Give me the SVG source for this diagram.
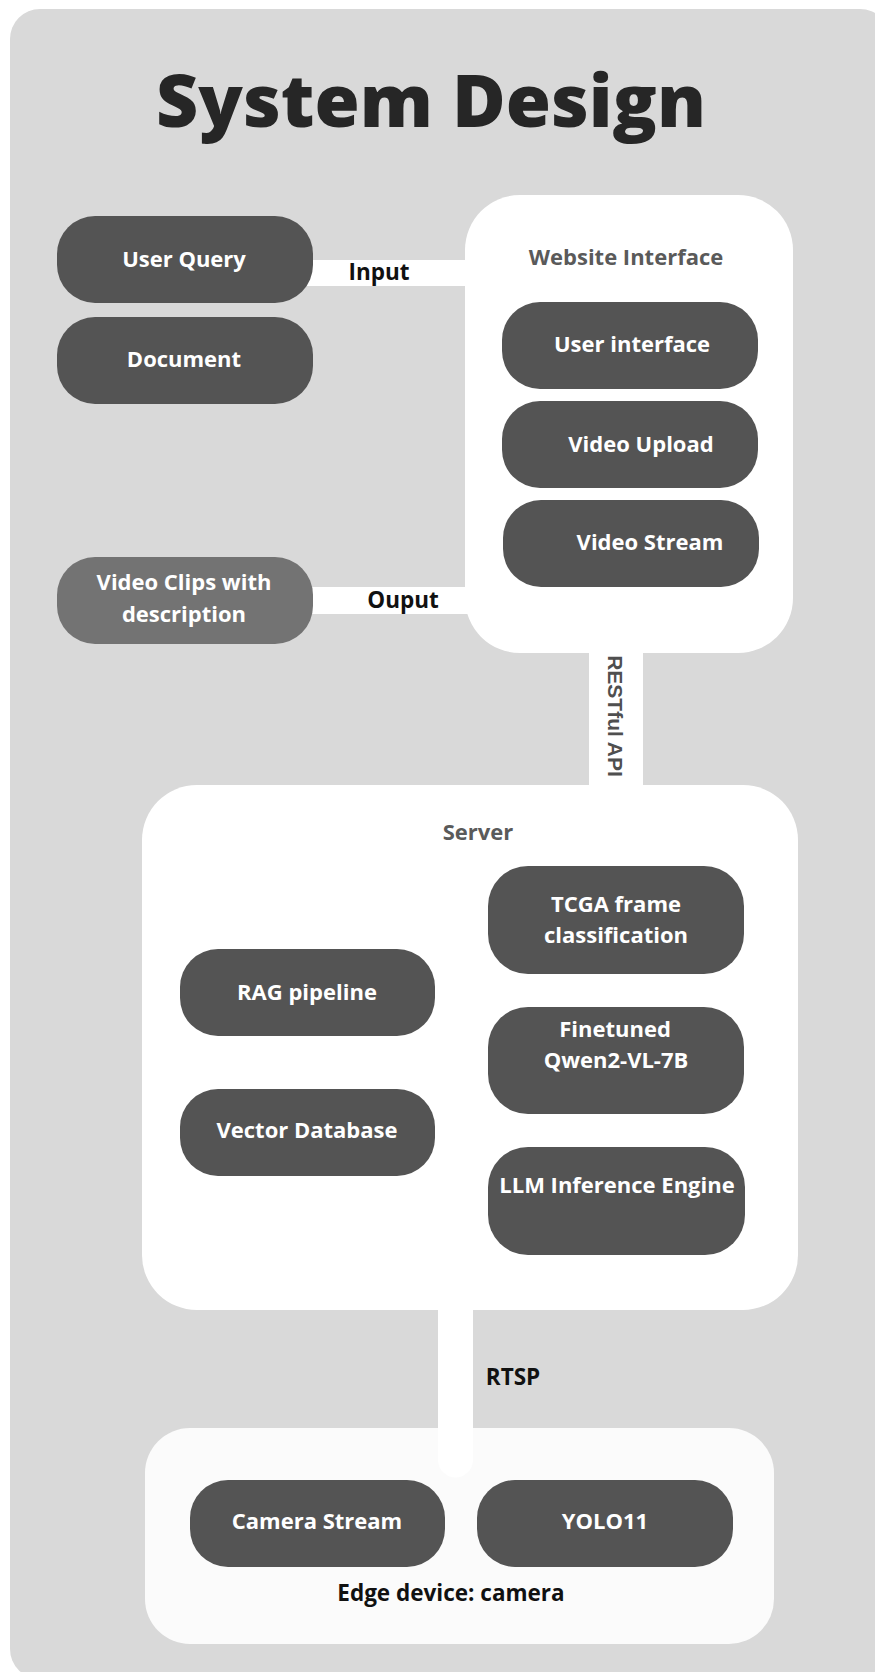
<svg xmlns="http://www.w3.org/2000/svg" width="875" height="1672" viewBox="0 0 875 1672">
<style>
.node{fill:#545454}
.cont{fill:#ffffff}
.lbl{font-family:"Open Sans","Liberation Sans",sans-serif;font-weight:700;font-size:22px;fill:#ffffff;text-anchor:middle}
.clbl{font-family:"Open Sans","Liberation Sans",sans-serif;font-weight:700;font-size:22px;fill:#5a5a5a;text-anchor:middle}
.elbl{font-family:"Open Sans","Liberation Sans",sans-serif;font-weight:700;font-size:22.5px;fill:#111111;text-anchor:middle}
.band{fill:#ffffff}
</style>
<rect x="10" y="9" width="880" height="1670" rx="30" fill="#d9d9d9"/>
<text x="431" y="127" font-family="'Open Sans','Liberation Sans',sans-serif" font-weight="800" font-size="72" fill="#262626" text-anchor="middle" textLength="550" lengthAdjust="spacingAndGlyphs">System Design</text>

<g id="website-interface">
<rect class="cont" x="465" y="195" width="328" height="458" rx="55"/>
<text class="clbl" x="626" y="265">Website Interface</text>
</g>
<g id="server">
<rect class="cont" x="142" y="785" width="656" height="525" rx="55"/>
<text class="clbl" x="478" y="840">Server</text>
</g>
<g id="edge-device">
<rect x="145" y="1428" width="629" height="216" rx="45" fill="#fbfbfb"/>
<text class="elbl" x="451" y="1601">Edge device: camera</text>
</g>

<g id="connectors">
<rect class="band" x="300" y="260" width="170" height="26"/>
<text class="elbl" x="379" y="280">Input</text>
<rect class="band" x="300" y="587" width="170" height="27"/>
<text class="elbl" x="403" y="608">Ouput</text>
<rect class="band" x="589" y="640" width="54" height="150"/>
<text x="608" y="716" transform="rotate(90 608 716)" font-family="'Liberation Sans',Arial,sans-serif" font-weight="700" font-size="21" fill="#4f4f4f" text-anchor="middle">RESTful API</text>
<path class="band" d="M438 1300 H473 V1460 A17.5 17.5 0 0 1 438 1460 Z"/>
<text class="elbl" x="513" y="1385">RTSP</text>
</g>

<g id="user-query"><rect class="node" x="57" y="216" width="256" height="87" rx="38"/><text class="lbl" x="184" y="267">User Query</text></g>
<g id="document"><rect class="node" x="57" y="317" width="256" height="87" rx="38"/><text class="lbl" x="184" y="367">Document</text></g>
<g id="video-clips"><rect x="57" y="557" width="256" height="87" rx="38" fill="#737373"/><text class="lbl" x="184" y="590">Video Clips with</text><text class="lbl" x="184" y="622">description</text></g>

<g id="user-interface"><rect class="node" x="502" y="302" width="256" height="87" rx="38"/><text class="lbl" x="632" y="352">User interface</text></g>
<g id="video-upload"><rect class="node" x="502" y="401" width="256" height="87" rx="38"/><text class="lbl" x="641" y="452">Video Upload</text></g>
<g id="video-stream"><rect class="node" x="503" y="500" width="256" height="87" rx="38"/><text class="lbl" x="650" y="550">Video Stream</text></g>

<g id="tcga"><rect class="node" x="488" y="866" width="256" height="108" rx="40"/><text class="lbl" x="616" y="912">TCGA frame</text><text class="lbl" x="616" y="943">classification</text></g>
<g id="rag"><rect class="node" x="180" y="949" width="255" height="87" rx="38"/><text class="lbl" x="307" y="1000">RAG pipeline</text></g>
<g id="qwen"><rect class="node" x="488" y="1007" width="256" height="107" rx="40"/><text class="lbl" x="615" y="1037">Finetuned</text><text class="lbl" x="616" y="1068">Qwen2-VL-7B</text></g>
<g id="vector-db"><rect class="node" x="180" y="1089" width="255" height="87" rx="38"/><text class="lbl" x="307" y="1138">Vector Database</text></g>
<g id="llm"><rect class="node" x="488" y="1147" width="257" height="108" rx="40"/><text class="lbl" x="617" y="1193">LLM Inference Engine</text></g>

<g id="camera-stream"><rect class="node" x="190" y="1480" width="255" height="87" rx="38"/><text class="lbl" x="317" y="1529">Camera Stream</text></g>
<g id="yolo"><rect class="node" x="477" y="1480" width="256" height="87" rx="38"/><text class="lbl" x="605" y="1529">YOLO11</text></g>
</svg>
